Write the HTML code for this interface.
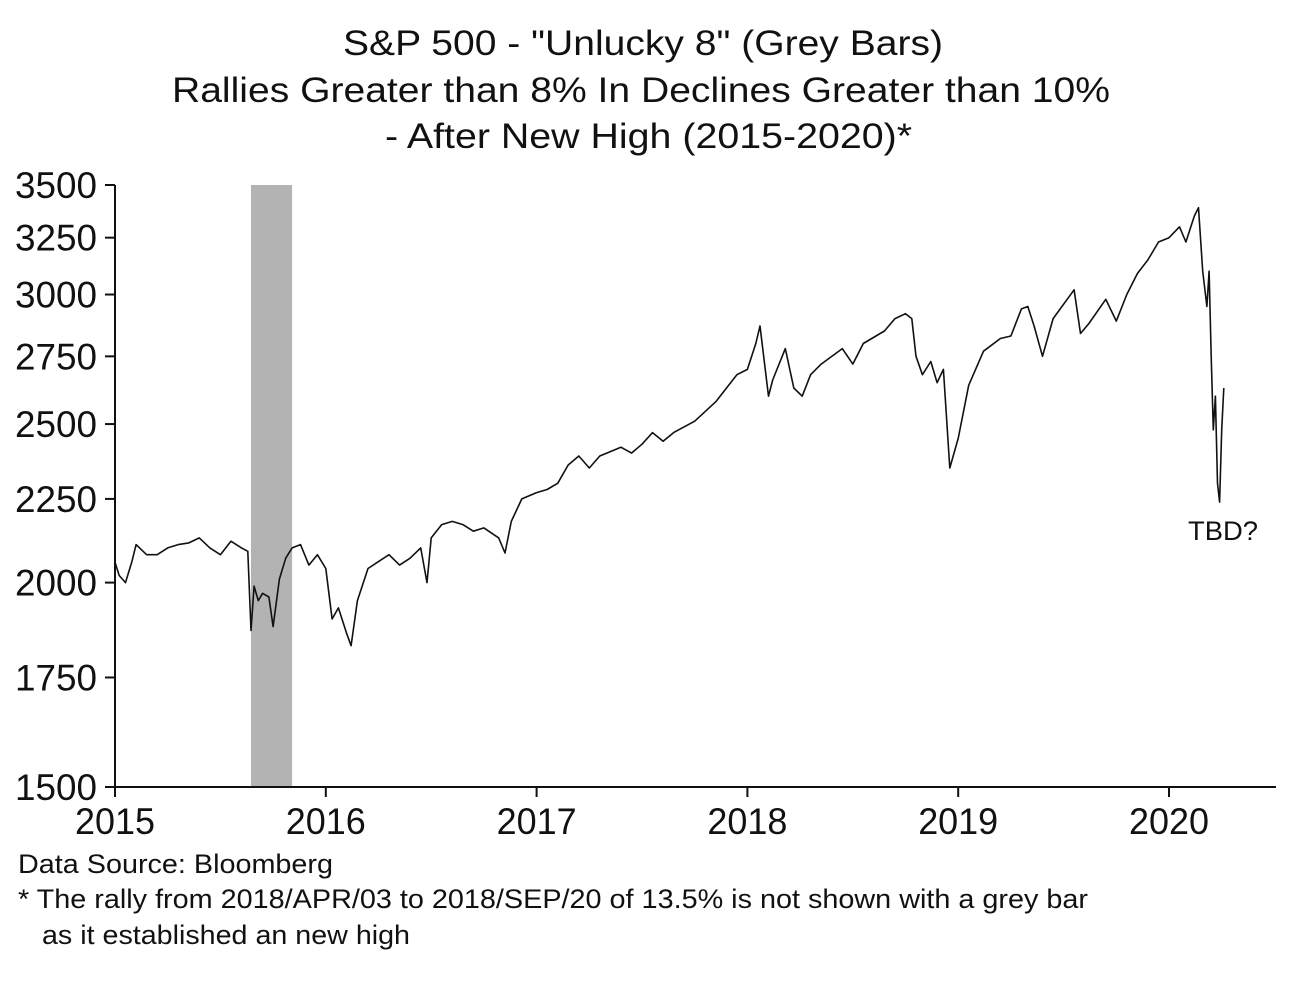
<!DOCTYPE html>
<html><head><meta charset="utf-8">
<style>
body{margin:0;background:#fff;}
svg text{font-family:"Liberation Sans",Arial,sans-serif;fill:#111;}
</style></head>
<body>
<svg id="chart" width="1306" height="982" viewBox="0 0 1306 982" xmlns="http://www.w3.org/2000/svg">
<g font-size="35">
<text x="343" y="55" textLength="600" lengthAdjust="spacingAndGlyphs">S&amp;P 500 - "Unlucky 8" (Grey Bars)</text>
<text x="172" y="102" textLength="938" lengthAdjust="spacingAndGlyphs">Rallies Greater than 8% In Declines Greater than 10%</text>
<text x="385" y="148" textLength="527" lengthAdjust="spacingAndGlyphs">- After New High (2015-2020)*</text>
</g>
<g id="bars"></g>
<g id="axes"></g>
<path id="line" fill="none" stroke="#111" stroke-width="1.6" stroke-linejoin="round"/>
<text x="1188" y="540" font-size="27" textLength="70" lengthAdjust="spacingAndGlyphs">TBD?</text>
<g font-size="27">
<text x="18" y="873" textLength="315" lengthAdjust="spacingAndGlyphs">Data Source: Bloomberg</text>
<text x="18" y="908" textLength="1070" lengthAdjust="spacingAndGlyphs">* The rally from 2018/APR/03 to 2018/SEP/20 of 13.5% is not shown with a grey bar</text>
<text x="42" y="944" textLength="368" lengthAdjust="spacingAndGlyphs">as it established an new high</text>
</g>
</svg>
<script>
const yTicks=[1500,1750,2000,2250,2500,2750,3000,3250,3500];
const xTicks=[2015,2016,2017,2018,2019,2020];
const greyBars=[[2015.645,2015.84]];
const dates=[2015.0,2015.02,2015.05,2015.08,2015.1,2015.15,2015.2,2015.25,2015.3,2015.35,2015.4,2015.45,2015.5,2015.55,2015.6,2015.63,2015.645,2015.66,2015.68,2015.7,2015.73,2015.75,2015.78,2015.81,2015.84,2015.88,2015.92,2015.96,2016.0,2016.03,2016.06,2016.1,2016.12,2016.15,2016.2,2016.25,2016.3,2016.35,2016.4,2016.45,2016.48,2016.5,2016.55,2016.6,2016.65,2016.7,2016.75,2016.82,2016.85,2016.88,2016.93,2017.0,2017.05,2017.1,2017.15,2017.2,2017.25,2017.3,2017.4,2017.45,2017.5,2017.55,2017.6,2017.65,2017.75,2017.85,2017.95,2018.0,2018.04,2018.06,2018.1,2018.12,2018.18,2018.22,2018.26,2018.3,2018.35,2018.45,2018.5,2018.55,2018.65,2018.7,2018.75,2018.78,2018.8,2018.83,2018.87,2018.9,2018.93,2018.96,2019.0,2019.05,2019.12,2019.2,2019.25,2019.3,2019.33,2019.36,2019.4,2019.45,2019.55,2019.58,2019.62,2019.7,2019.75,2019.8,2019.85,2019.9,2019.95,2020.0,2020.05,2020.08,2020.12,2020.14,2020.16,2020.18,2020.19,2020.2,2020.21,2020.22,2020.23,2020.24,2020.25,2020.26];
const values=[2058,2020,2000,2060,2110,2080,2080,2100,2110,2115,2130,2100,2080,2120,2100,2090,1870,1990,1950,1970,1960,1880,2010,2070,2100,2110,2050,2080,2040,1900,1930,1860,1830,1950,2040,2060,2080,2050,2070,2100,2000,2130,2170,2180,2170,2150,2160,2130,2085,2180,2250,2270,2280,2300,2360,2390,2350,2390,2420,2400,2430,2470,2440,2470,2510,2580,2680,2700,2800,2870,2600,2660,2780,2630,2600,2680,2720,2780,2720,2800,2850,2900,2920,2900,2750,2680,2730,2650,2700,2350,2450,2640,2770,2820,2830,2940,2950,2870,2750,2900,3020,2840,2880,2980,2890,3000,3090,3150,3230,3250,3300,3230,3350,3390,3100,2950,3100,2750,2480,2600,2300,2240,2480,2630];
const X0=115,X1=1276,Y0=787,Y1=185;
const xs=d=>X0+(d-2015)*210.8;
const lmin=Math.log(1500),lmax=Math.log(3500);
const ys=v=>Y0-(Math.log(v)-lmin)/(lmax-lmin)*(Y0-Y1);
const NS="http://www.w3.org/2000/svg";
function mk(t,a,p){const e=document.createElementNS(NS,t);for(const k in a)e.setAttribute(k,a[k]);p.appendChild(e);return e;}
const bars=document.getElementById('bars');
greyBars.forEach(b=>{
 const r=mk('rect',{x:xs(b[0]),y:Y1,width:xs(b[1])-xs(b[0]),height:Y0-Y1,fill:'#b3b3b3'},bars);
 
 
});
const ax=document.getElementById('axes');
const yl=mk('line',{x1:X0,y1:Y1,x2:X0,y2:Y0,stroke:'#111','stroke-width':2},ax);


const xl=mk('line',{x1:X0-10,y1:Y0,x2:X1,y2:Y0,stroke:'#111','stroke-width':2},ax);


yTicks.forEach(v=>{
 mk('line',{x1:X0-10,y1:ys(v),x2:X0,y2:ys(v),stroke:'#111','stroke-width':2},ax);
 const t=mk('text',{x:X0-100,y:ys(v)+13,'font-size':37,textLength:82,lengthAdjust:'spacingAndGlyphs'},ax);
 t.textContent=v;
 
 
});
xTicks.forEach(v=>{
 mk('line',{x1:xs(v),y1:Y0,x2:xs(v),y2:Y0+10,stroke:'#111','stroke-width':2},ax);
 const t=mk('text',{x:xs(v)-40,y:Y0+47,'font-size':37,textLength:80,lengthAdjust:'spacingAndGlyphs'},ax);
 t.textContent=v;
 
 
});
document.getElementById('line').setAttribute('d',dates.map((d,i)=>(i?'L':'M')+xs(d).toFixed(1)+','+ys(values[i]).toFixed(1)).join(''));
</script>
</body></html>
